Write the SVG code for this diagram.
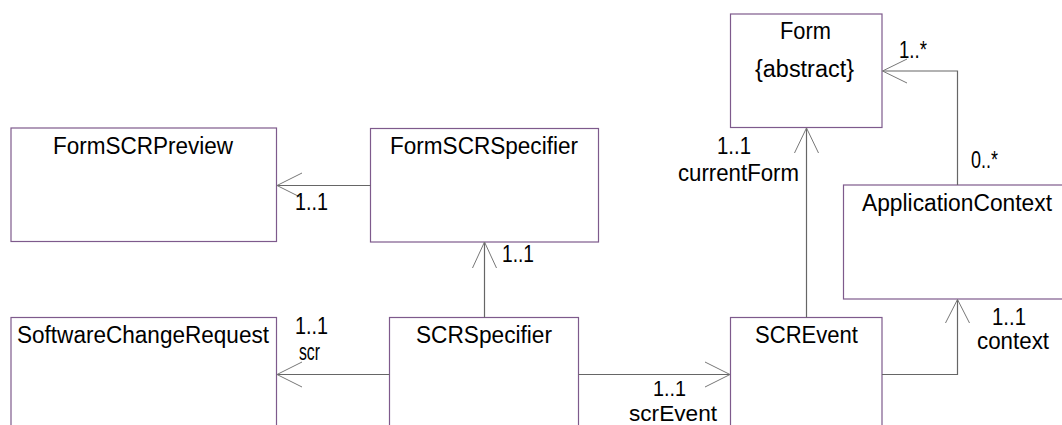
<svg xmlns="http://www.w3.org/2000/svg" width="1062" height="425" viewBox="0 0 1062 425">
<style>
.box{fill:#ffffff;stroke:#7e5a8c;stroke-width:1.2}
.ln{fill:none;stroke:#666666;stroke-width:1.2}
.hd{fill:none;stroke:#777777;stroke-width:1}
text{font-family:"Liberation Sans",Arial,sans-serif;font-size:23px;fill:#000000}
.sm{font-size:22px}
</style>
<rect width="1062" height="425" fill="#ffffff"/>
<g id="FormSCRPreview">
<rect class="box" x="11" y="128" width="265.5" height="113.5"/>
<text x="53" y="154" textLength="180" lengthAdjust="spacingAndGlyphs">FormSCRPreview</text>
</g>
<g id="FormSCRSpecifier">
<rect class="box" x="370.5" y="128.5" width="228" height="113.5"/>
<text x="390" y="154" textLength="188" lengthAdjust="spacingAndGlyphs">FormSCRSpecifier</text>
</g>
<g id="Form">
<rect class="box" x="730.5" y="14" width="151.5" height="113.5"/>
<text x="780" y="39" textLength="51" lengthAdjust="spacingAndGlyphs">Form</text>
<text x="755" y="77" textLength="99" lengthAdjust="spacingAndGlyphs">{abstract}</text>
</g>
<g id="ApplicationContext">
<rect class="box" x="843.5" y="185" width="228" height="114"/>
<text x="862" y="211" textLength="190" lengthAdjust="spacingAndGlyphs">ApplicationContext</text>
</g>
<g id="SoftwareChangeRequest">
<rect class="box" x="11" y="317.5" width="265.5" height="120"/>
<text x="17" y="343" textLength="252" lengthAdjust="spacingAndGlyphs">SoftwareChangeRequest</text>
</g>
<g id="SCRSpecifier">
<rect class="box" x="389.5" y="317.5" width="189" height="120"/>
<text x="416" y="343" textLength="136" lengthAdjust="spacingAndGlyphs">SCRSpecifier</text>
</g>
<g id="SCREvent">
<rect class="box" x="730.5" y="317.5" width="151.5" height="120"/>
<text x="755" y="343" textLength="103" lengthAdjust="spacingAndGlyphs">SCREvent</text>
</g>
<g id="connectors">
<path class="ln" d="M370.5 185.5 H277"/>
<path class="hd" d="M302 173 L277 185.5 L302 198"/>
<text x="295" y="210" textLength="33" lengthAdjust="spacingAndGlyphs">1..1</text>
<path class="ln" d="M484.5 317.5 V242"/>
<path class="hd" d="M472.5 268 L484.5 242 L496.5 268"/>
<text x="502" y="262" textLength="32" lengthAdjust="spacingAndGlyphs">1..1</text>
<path class="ln" d="M389.5 374.5 H277"/>
<path class="hd" d="M302 362 L277 374.5 L302 387"/>
<text x="295" y="334" textLength="33" lengthAdjust="spacingAndGlyphs">1..1</text>
<text x="299" y="360" textLength="21" lengthAdjust="spacingAndGlyphs">scr</text>
<path class="ln" d="M578.5 374.5 H730"/>
<path class="hd" d="M705 362 L730 374.5 L705 387"/>
<text class="sm" x="653" y="396" textLength="33" lengthAdjust="spacingAndGlyphs">1..1</text>
<text class="sm" x="629" y="421" textLength="88" lengthAdjust="spacingAndGlyphs">scrEvent</text>
<path class="ln" d="M806.5 317.5 V128"/>
<path class="hd" d="M794.5 153 L806.5 128 L818.5 153"/>
<text x="717" y="154" textLength="34" lengthAdjust="spacingAndGlyphs">1..1</text>
<text x="678" y="181" textLength="121" lengthAdjust="spacingAndGlyphs">currentForm</text>
<path class="ln" d="M882 374.5 H957.5 V299.5"/>
<path class="hd" d="M945.5 323 L957.5 299.5 L969.5 323"/>
<text x="992" y="325" textLength="34" lengthAdjust="spacingAndGlyphs">1..1</text>
<text x="977" y="349" textLength="72" lengthAdjust="spacingAndGlyphs">context</text>
<path class="ln" d="M957.5 185 V71 H882.5"/>
<path class="hd" d="M907 59 L882.5 71 L907 83"/>
<text x="899" y="58" textLength="28" lengthAdjust="spacingAndGlyphs">1..*</text>
<text x="971" y="168" textLength="27" lengthAdjust="spacingAndGlyphs">0..*</text>
</g>
</svg>
